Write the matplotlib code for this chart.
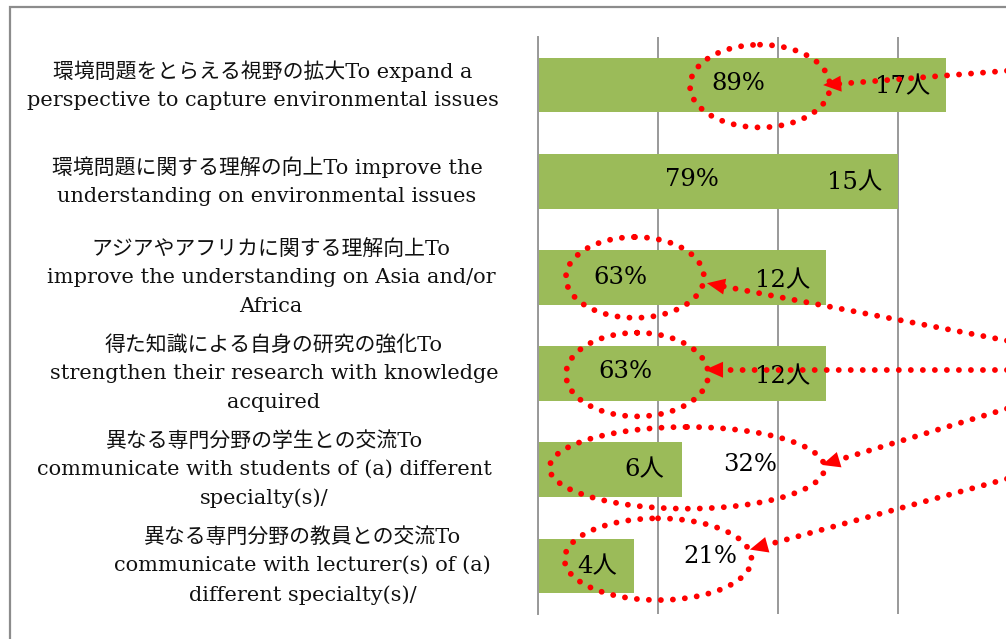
import matplotlib
matplotlib.use("Agg")
import numpy as np
import matplotlib.pyplot as plt
from matplotlib.patches import Ellipse, Rectangle, Polygon
from matplotlib.transforms import IdentityTransform

# Survey results: number of respondents (n = 19) per learning outcome
categories = [
    "環境問題をとらえる視野の拡大To expand a\nperspective to capture environmental issues",
    "環境問題に関する理解の向上To improve the\nunderstanding on environmental issues",
    "アジアやアフリカに関する理解向上To\nimprove the understanding on Asia and/or\nAfrica",
    "得た知識による自身の研究の強化To\nstrengthen their research with knowledge\nacquired",
    "異なる専門分野の学生との交流To\ncommunicate with students of (a) different\nspecialty(s)/",
    "異なる専門分野の教員との交流To\ncommunicate with lecturer(s) of (a)\ndifferent specialty(s)/",
]
counts = [17, 15, 12, 12, 6, 4]
percents = [89, 79, 63, 63, 32, 21]
grid_ticks = [0, 5, 10, 15, 20]

FONT = ["DejaVu Serif", "Noto Sans CJK JP", "DejaVu Sans"]
BAR_COLOR = "#9BBB59"
GRID_COLOR = "#999999"
RED = "#FF0000"

W, H = 1006, 639
DPI = 100
fig = plt.figure(figsize=(W / DPI, H / DPI), dpi=DPI)

# outer frame (runs past the right and bottom edges)
fig.patches.append(Rectangle((9.5 / W, -0.2), 1.2, (H - 7.5) / H + 0.2,
                             transform=fig.transFigure, fill=False,
                             edgecolor="#8C8C8C", linewidth=1.6, clip_on=False))

ax = fig.add_axes([538 / W, 25 / H, 480 / W, 577 / H])
ax.set_xlim(0, 20)
ax.set_ylim(len(counts) - 0.5, -0.5)
ax.set_xticks(grid_ticks)
ax.set_yticks([])
ax.tick_params(axis="x", length=0, labelbottom=False)
for s in ax.spines.values():
    s.set_visible(False)
ax.grid(axis="x", color=GRID_COLOR, linewidth=1.4)
ax.set_axisbelow(True)
ax.patch.set_alpha(0)

ypos = list(range(len(counts)))
ax.barh(ypos, counts, height=0.57, color=BAR_COLOR, zorder=2)
# category axis line drawn over the bar bases
ax.axvline(0, color=GRID_COLOR, linewidth=1.4, zorder=2.5, clip_on=False)

# category labels, centred to the left of the plot
label_x = [-11.46, -11.29, -11.13, -11.0, -11.4, -9.8]
for y, lab, lx in zip(ypos, categories, label_x):
    ax.text(lx, y, lab, ha="center", va="center", family=FONT, fontsize=15,
            linespacing=1.62, clip_on=False, color="#111111")

# value labels: percentage and head count (x in data units, y offset from bar)
pct_pos = [(8.33, -0.02), (6.42, -0.02), (3.45, 0.0), (3.63, -0.02), (8.83, -0.05), (7.17, -0.1)]
cnt_pos = [(15.17, 0.02), (13.2, 0.02), (10.17, 0.03), (10.17, 0.03), (4.42, 0.0), (2.45, 0.01)]
for y, p, c, (px, py), (cx, cy) in zip(ypos, percents, counts, pct_pos, cnt_pos):
    ax.text(px, y + py, f"{p}%", ha="center", va="center", family=FONT,
            fontsize=17.5, zorder=3)
    ax.text(cx, y + cy, f"{c}人", ha="center", va="center", family=FONT,
            fontsize=17.5, zorder=3)

# red dotted call-outs
DOT = dict(linewidth=4.2, linestyle=(0, (0.01, 2.05)))
ellipses = [((9.25, 0.01), 5.83, 0.86), ((4.04, 2.0), 5.75, 0.84),
            ((4.13, 3.01), 5.92, 0.87), ((6.21, 3.98), 11.46, 0.85),
            ((5.0, 4.93), 7.79, 0.85)]
for (cx, cy), w, h in ellipses:
    e = Ellipse((cx, cy), w, h, fill=False, edgecolor=RED, zorder=5,
                clip_on=False, capstyle="round", **DOT)
    ax.add_patch(e)

arrows = [((19.6, -0.15), (11.88, 0.0)), ((19.6, 2.66), (7.04, 2.06)),
          ((19.6, 2.96), (6.96, 2.96)), ((19.6, 3.36), (11.83, 3.95)),
          ((19.6, 4.09), (8.83, 4.83))]
HEAD_LEN, HEAD_HALF = 18.0, 8.0   # pixels
for start, tip in arrows:
    p0 = ax.transData.transform(start)
    p1 = ax.transData.transform(tip)
    d = (p1 - p0) / np.hypot(*(p1 - p0))
    n = np.array([-d[1], d[0]])
    base = p1 - d * HEAD_LEN
    # dotted shaft up to the arrowhead
    shaft_end = ax.transData.inverted().transform(base + d * 2)
    ax.plot([start[0], shaft_end[0]], [start[1], shaft_end[1]], color=RED,
            dash_capstyle="round", clip_on=False, zorder=6, **DOT)
    head = Polygon([p1, base + n * HEAD_HALF, base - n * HEAD_HALF],
                   closed=True, facecolor=RED, edgecolor="none",
                   transform=IdentityTransform(), zorder=7, clip_on=False)
    ax.add_artist(head)

fig.savefig("out.png", dpi=DPI)
